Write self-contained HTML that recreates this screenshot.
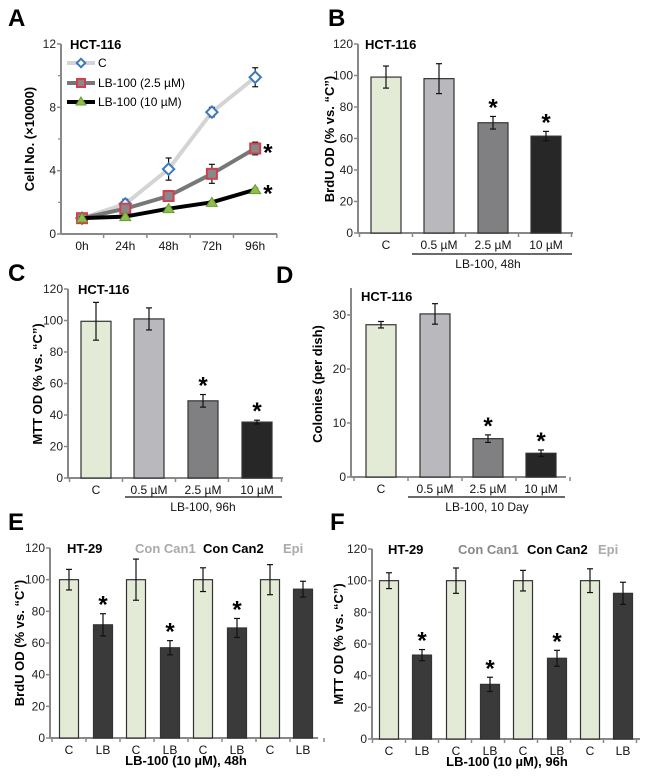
<!DOCTYPE html>
<html><head><meta charset="utf-8"><style>
html,body{margin:0;padding:0;background:#fff}
svg{display:block;font-family:"Liberation Sans",Arial,sans-serif}
</style></head><body>
<svg id="fig" width="650" height="778" viewBox="0 0 650 778" xmlns="http://www.w3.org/2000/svg"></svg>
<script>
// Panel A data
const aCategories = ['0h','24h','48h','72h','96h'];
const aSeriesC = [1.0, 1.9, 4.1, 7.7, 9.9];
const aErrC = [0.1, 0.3, 0.7, 0.3, 0.6];
const aSeries25 = [1.0, 1.6, 2.4, 3.8, 5.4];
const aErr25 = [0.1, 0.2, 0.2, 0.6, 0.4];
const aSeries10 = [1.0, 1.1, 1.6, 2.0, 2.8];
const aErr10 = [0.1, 0.1, 0.1, 0.1, 0.1];
const aTicks = [0, 4, 8, 12];
// Panel B
const bCategories = ['C','0.5 µM','2.5 µM','10 µM'];
const bValues = [99, 98, 70, 61.5];
const bErrors = [7, 9.5, 4, 3];
const bStars = [false,false,true,true];
// Panel C
const cCategories = ['C','0.5 µM','2.5 µM','10 µM'];
const cValues = [99.5, 101, 49, 35.5];
const cErrors = [12, 7, 4, 1.2];
const cStars = [false,false,true,true];
// Panel D
const dCategories = ['C','0.5 µM','2.5 µM','10 µM'];
const dValues = [28.2, 30.2, 7.1, 4.4];
const dErrors = [0.6, 1.9, 0.7, 0.6];
const dStars = [false,false,true,true];
const pctTicks = [0,20,40,60,80,100,120];
const dTicks = [0,10,20,30];
// Panel E
const eCategories = ['C','LB','C','LB','C','LB','C','LB'];
const eValues = [100, 71.5, 100, 57, 100, 69.5, 100, 94];
const eErrors = [6.5, 7, 13, 4.5, 7.5, 6, 9.5, 5];
const eStars = [false,true,false,true,false,true,false,false];
// Panel F
const fCategories = ['C','LB','C','LB','C','LB','C','LB'];
const fValues = [100, 53, 100, 34.5, 100, 51, 100, 92];
const fErrors = [5, 3.5, 8, 4.5, 6.5, 5, 7.5, 7];
const fStars = [false,true,false,true,false,true,false,false];

const svg = document.getElementById('fig');
const NS = 'http://www.w3.org/2000/svg';
function el(tag, attrs, parent){
  const e = document.createElementNS(NS, tag);
  for (const k in attrs) e.setAttribute(k, attrs[k]);
  (parent||svg).appendChild(e);
  return e;
}
function txt(x,y,s,size,opts){
  opts = opts||{};
  const t = el('text',{x:x,y:y,'font-size':size,fill:opts.fill||'#000','text-anchor':opts.anchor||'start','font-weight':opts.bold?'bold':'normal'});
  if (opts.rot) t.setAttribute('transform','rotate(-90 '+x+' '+y+')');
  t.textContent = s;
  return t;
}
function yAxis(x, y0, yTop, ticks, max, name){
  const g = el('g',{});
  
  
  el('line',{x1:x,y1:y0,x2:x,y2:yTop,stroke:'#888','stroke-width':2},g);
  ticks.forEach(v=>{
    const y = y0 - (y0-yTop)*v/max;
    el('line',{x1:x-4,y1:y,x2:x,y2:y,stroke:'#888','stroke-width':1.5},g);
    const t = txt(x-5,y+4,String(v),12,{anchor:'end',fill:'#222'});
    g.appendChild(t);
  });
  return g;
}
function panelLetter(x,y,s){
  const t = txt(x,y,s,24,{bold:true});
  
  
}
function errBar(x, yv, ye1, ye2, g){
  el('line',{x1:x,y1:ye1,x2:x,y2:ye2,stroke:'#111','stroke-width':1.2},g);
  el('line',{x1:x-3,y1:ye1,x2:x+3,y2:ye1,stroke:'#111','stroke-width':1.2},g);
  el('line',{x1:x-3,y1:ye2,x2:x+3,y2:ye2,stroke:'#111','stroke-width':1.2},g);
}
function barChart(cfg){
  const {x0,xEnd,y0,yTop,max,ticks,cats,vals,errs,stars,centers,bw,colors,prefix} = cfg;
  yAxis(x0,y0,yTop,ticks,max,prefix+'-y-axis');
  const sy = v => y0 - (y0-yTop)*v/max;
  const xa = el('g',{});
  
  
  el('line',{x1:x0,y1:y0,x2:xEnd,y2:y0,stroke:'#888','stroke-width':2},xa);
  const pitch = centers[1]-centers[0];
  for (let i=0;i<=cats.length;i++){
    const tx = centers[0]-pitch/2 + i*pitch;
    el('line',{x1:tx,y1:y0,x2:tx,y2:y0+4,stroke:'#888','stroke-width':1.5},xa);
  }
  cats.forEach((c,i)=>{
    const g = el('g',{});
    
    
    const y = sy(vals[i]);
    el('rect',{x:centers[i]-bw/2,y:y,width:bw,height:y0-y,fill:colors[i],stroke:'#333','stroke-width':1.2},g);
    const yt = sy(vals[i]+errs[i]);
    errBar(centers[i], y, yt, sy(vals[i]-errs[i]), g);
    if (stars[i]) g.appendChild(txt(centers[i], yt-1, '*', 24, {anchor:'middle',bold:true}));
    xa.appendChild(txt(centers[i], y0+16, c, 12, {anchor:'middle',fill:'#111'}));
  });
}

// ---------- Panel A ----------
panelLetter(8,26,'A');
(function(){
  const x0=61,y0=234,yTop=44,max=12;
  yAxis(x0,y0,yTop,aTicks,max,'a-y-axis');
  [2,6,10].forEach(v=>{const y=y0-(y0-yTop)*v/max; el('line',{x1:x0-3,y1:y,x2:x0,y2:y,stroke:'#888','stroke-width':1.2});});
  const xs = i => 82 + i*43.3;
  const sy = v => y0-(y0-yTop)*v/max;
  const xa = el('g',{});
  
  
  el('line',{x1:x0,y1:y0,x2:277,y2:y0,stroke:'#888','stroke-width':2},xa);
  aCategories.forEach((c,i)=>{
    el('line',{x1:xs(i)+21.6,y1:y0,x2:xs(i)+21.6,y2:y0+4,stroke:'#888','stroke-width':1.5},xa);
    xa.appendChild(txt(xs(i),y0+16,c,12,{anchor:'middle',fill:'#111'}));
  });
  const series = [
    {v:aSeriesC,e:aErrC,stroke:'#d4d4d4',w:4,name:'series-control'},
    {v:aSeries25,e:aErr25,stroke:'#777',w:4,name:'series-lb100-2-5'},
    {v:aSeries10,e:aErr10,stroke:'#000',w:4,name:'series-lb100-10'}
  ];
  series.forEach((s,si)=>{
    const g = el('g',{});
    
    
    el('polyline',{points:s.v.map((v,i)=>xs(i)+','+sy(v)).join(' '),fill:'none',stroke:s.stroke,'stroke-width':s.w,'stroke-linejoin':'round'},g);
    s.v.forEach((v,i)=>{
      const x=xs(i), y=sy(v);
      errBar(x,y,sy(v+s.e[i]),sy(v-s.e[i]),g);
      if (si===0) el('rect',{x:x-4,y:y-4,width:8,height:8,fill:'#fff',stroke:'#3a78c0','stroke-width':2,transform:'rotate(45 '+x+' '+y+')'},g);
      else if (si===1) el('rect',{x:x-5,y:y-5,width:10,height:10,fill:'#888',stroke:'#d04050','stroke-width':2},g);
      else el('polygon',{points:(x)+','+(y-5)+' '+(x+5.5)+','+(y+4)+' '+(x-5.5)+','+(y+4),fill:'#8cc04a',stroke:'#6a9a30','stroke-width':1},g);
    });
    if (si>0) g.appendChild(txt(xs(4)+8, sy(s.v[4])+12, '*', 24, {bold:true}));
  });
  const t = txt(70,49,'HCT-116',13,{bold:true});
   
  const lg = el('g',{});
  
  
  el('line',{x1:67,y1:63,x2:95,y2:63,stroke:'#d4d4d4','stroke-width':4},lg);
  el('rect',{x:78,y:60,width:6,height:6,fill:'#fff',stroke:'#3a78c0','stroke-width':2,transform:'rotate(45 81 63)'},lg);
  lg.appendChild(txt(98,67,'C',12));
  el('line',{x1:67,y1:83,x2:95,y2:83,stroke:'#777','stroke-width':4},lg);
  el('rect',{x:77,y:79,width:8,height:8,fill:'#888',stroke:'#d04050','stroke-width':2},lg);
  lg.appendChild(txt(98,87,'LB-100 (2.5 µM)',12));
  el('line',{x1:67,y1:102,x2:95,y2:102,stroke:'#000','stroke-width':4},lg);
  el('polygon',{points:'81,97 86,105 76,105',fill:'#8cc04a',stroke:'#6a9a30'},lg);
  lg.appendChild(txt(98,106,'LB-100 (10 µM)',12));
  const yl = txt(34,139,'Cell No. (×10000)',13,{bold:true,anchor:'middle',rot:true});
   
})();

const hctColors = ['#e3ead6','#b9b9bd','#808082','#272727'];
function underline(x1,x2,y,label,cx,prefix){
  const g = el('g',{});
  
  
  el('line',{x1:x1,y1:y,x2:x2,y2:y,stroke:'#111','stroke-width':1.2},g);
  g.appendChild(txt(cx,y+14,label,12,{anchor:'middle',fill:'#111'}));
}
function titleText(x,y,s,name,opts){
  const t = txt(x,y,s,13,Object.assign({bold:true},opts||{}));
   
}
function yTitle(x,y,s,name){
  const t = txt(x,y,s,13,{bold:true,anchor:'middle',rot:true});
   
}

// ---------- Panel B ----------
panelLetter(328,26,'B');
barChart({x0:358,xEnd:573,y0:233,yTop:44,max:120,ticks:pctTicks,cats:bCategories,vals:bValues,errs:bErrors,stars:bStars,centers:[386,439,493,546],bw:30,colors:hctColors,prefix:'b'});
underline(412,572,254,'LB-100, 48h',488,'b');
titleText(365,49,'HCT-116','b-title');
yTitle(334,139,'BrdU OD (% vs. “C”)','b-y-axis-title');

// ---------- Panel C ----------
panelLetter(8,281,'C');
barChart({x0:68,xEnd:283,y0:478,yTop:289,max:120,ticks:pctTicks,cats:cCategories,vals:cValues,errs:cErrors,stars:cStars,centers:[96,149,203,257],bw:30,colors:hctColors,prefix:'c'});
underline(125,282,497,'LB-100, 96h',203,'c');
titleText(78,294,'HCT-116','c-title');
yTitle(42,384,'MTT OD (% vs. “C”)','c-y-axis-title');

// ---------- Panel D ----------
panelLetter(276,283,'D');
barChart({x0:351,xEnd:566,y0:477,yTop:288,max:35,ticks:dTicks,cats:dCategories,vals:dValues,errs:dErrors,stars:dStars,centers:[381,435,488,541],bw:30,colors:hctColors,prefix:'d'});
underline(408,565,497,'LB-100, 10 Day',487,'d');
titleText(361,301,'HCT-116','d-title');
yTitle(322,384,'Colonies (per dish)','d-y-axis-title');

// ---------- Panel E ----------
panelLetter(8,530,'E');
const htColors = ['#e3ead6','#3a3a3a','#e3ead6','#3a3a3a','#e3ead6','#3a3a3a','#e3ead6','#3a3a3a'];
barChart({x0:50,xEnd:318,y0:738,yTop:548,max:120,ticks:pctTicks,cats:eCategories,vals:eValues,errs:eErrors,stars:eStars,centers:[69,103,136,170,203,237,270,303],bw:19,colors:htColors,prefix:'e'});
titleText(67,553,'HT-29','e-title');
titleText(135,553,'Con Can1','e-legend-con-can1',{fill:'#aaa'});
titleText(203,553,'Con Can2','e-legend-con-can2');
titleText(283,553,'Epi','e-legend-epi',{fill:'#aaa'});
titleText(186,765,'LB-100 (10 µM), 48h','e-x-axis-title',{anchor:'middle'});
yTitle(24,643,'BrdU OD (% vs. “C”)','e-y-axis-title');

// ---------- Panel F ----------
panelLetter(330,530,'F');
barChart({x0:372,xEnd:640,y0:739,yTop:549,max:120,ticks:pctTicks,cats:fCategories,vals:fValues,errs:fErrors,stars:fStars,centers:[389,422,456,490,523,557,590,623],bw:19,colors:htColors,prefix:'f'});
titleText(388,554,'HT-29','f-title');
titleText(458,554,'Con Can1','f-legend-con-can1',{fill:'#888'});
titleText(527,554,'Con Can2','f-legend-con-can2');
titleText(598,554,'Epi','f-legend-epi',{fill:'#aaa'});
titleText(507,766,'LB-100 (10 µM), 96h','f-x-axis-title',{anchor:'middle'});
yTitle(343,644,'MTT OD (% vs. “C”)','f-y-axis-title');
</script>
</body></html>
